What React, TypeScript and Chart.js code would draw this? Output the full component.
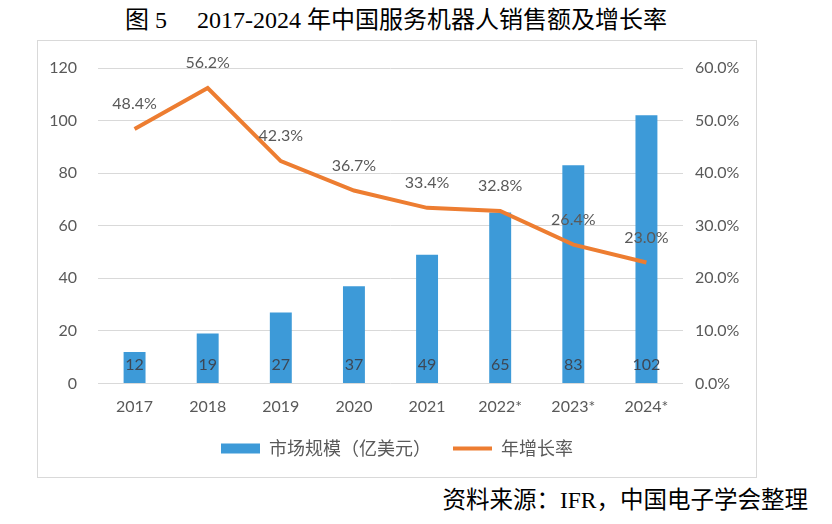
import React, { useRef, useEffect } from 'react';
import { Chart, registerables } from 'chart.js';

Chart.register(...registerables);

const years = ['2017', '2018', '2019', '2020', '2021', '2022*', '2023*', '2024*'];
const marketSize = [12, 19, 27, 37, 49, 65, 83, 102];
const growthRate = [48.4, 56.2, 42.3, 36.7, 33.4, 32.8, 26.4, 23.0];
const barLabel = '市场规模（亿美元）';
const lineLabel = '年增长率';
const titleText = '图 5\u2003 2017-2024 年中国服务机器人销售额及增长率';
const sourceText = '资料来源：IFR，中国电子学会整理';

const tickFont = { family: 'Lato, "Noto Sans CJK SC", sans-serif', size: 16 };

const valueLabels = {
    id: 'valueLabels',
    afterDatasetsDraw(chart: any) {
        const ctx = chart.ctx;
        ctx.save();
        ctx.font = '16px Lato, "Noto Sans CJK SC", sans-serif';
        ctx.textAlign = 'center';
        ctx.textBaseline = 'middle';

        const bars = chart.getDatasetMeta(0).data;
        ctx.fillStyle = '#3d4755';
        bars.forEach((bar: any, i: number) => {
            ctx.fillText(String(marketSize[i]), bar.x, bar.base - 18);
        });

        const points = chart.getDatasetMeta(1).data;
        ctx.fillStyle = '#595959';
        points.forEach((pt: any, i: number) => {
            ctx.fillText(growthRate[i].toFixed(1) + '%', pt.x, pt.y - 25);
        });
        ctx.restore();
    }
};

const App: React.FC = () => {
    const chartRef = useRef<HTMLCanvasElement>(null);

    useEffect(() => {
        const ctx = chartRef.current?.getContext('2d');
        if (!ctx) return;

        const chart = new Chart(ctx, {
            type: 'bar',
            data: {
                labels: years,
                datasets: [
                    {
                        type: 'bar',
                        label: barLabel,
                        data: marketSize,
                        backgroundColor: '#3d9ad8',
                        barPercentage: 0.3,
                        categoryPercentage: 1,
                        yAxisID: 'y',
                        order: 1,
                    } as any,
                    {
                        type: 'line',
                        label: lineLabel,
                        data: growthRate,
                        borderColor: '#ed7d31',
                        backgroundColor: '#ed7d31',
                        borderWidth: 4,
                        pointRadius: 0,
                        tension: 0,
                        fill: false,
                        yAxisID: 'y1',
                        order: 0,
                    } as any,
                ]
            },
            options: {
                responsive: true,
                maintainAspectRatio: false,
                animation: false,
                layout: { padding: { top: 27, bottom: 9.5, left: 0, right: 0 } },
                plugins: {
                    tooltip: { enabled: false },
                    legend: {
                        position: 'bottom',
                        labels: {
                            usePointStyle: true,
                            pointStyleWidth: 39,
                            boxHeight: 10,
                            padding: 22,
                            color: '#595959',
                            font: { family: '"Noto Sans CJK SC", sans-serif', size: 18 },
                            generateLabels: (c: any) => c.data.datasets.map((ds: any, i: number) => ({
                                text: ds.label,
                                fillStyle: ds.type === 'bar' ? ds.backgroundColor : ds.borderColor,
                                strokeStyle: ds.type === 'bar' ? ds.backgroundColor : ds.borderColor,
                                lineWidth: ds.type === 'bar' ? 0 : 4,
                                pointStyle: ds.type === 'bar' ? 'rect' : 'line',
                                fontColor: '#595959',
                                datasetIndex: i,
                                hidden: false,
                            })),
                        }
                    }
                },
                scales: {
                    x: {
                        grid: { display: false, drawTicks: false },
                        border: { display: false },
                        ticks: { color: '#595959', font: tickFont, padding: 14, maxRotation: 0 },
                        afterFit: (s: any) => { s.height = 34; },
                    },
                    y: {
                        position: 'left',
                        min: 0,
                        max: 120,
                        ticks: { stepSize: 20, color: '#595959', font: tickFont, padding: 21 },
                        grid: { color: '#d9d9d9', drawTicks: false },
                        border: { display: false },
                        afterFit: (s: any) => { s.width = 60; s.paddingTop = 0; s.paddingBottom = 0; },
                    },
                    y1: {
                        position: 'right',
                        min: 0,
                        max: 60,
                        ticks: {
                            stepSize: 10,
                            color: '#595959',
                            font: tickFont,
                            padding: 12,
                            callback: (v: any) => Number(v).toFixed(1) + '%',
                        },
                        grid: { display: false, drawTicks: false },
                        border: { display: false },
                        afterFit: (s: any) => { s.width = 73; s.paddingTop = 0; s.paddingBottom = 0; },
                    }
                }
            },
            plugins: [valueLabels]
        });

        return () => chart.destroy();
    }, []);

    return (
        <div style={{ position: 'fixed', left: 0, top: 0, width: 832, height: 524, background: '#fff' }}>
            <div style={{
                position: 'absolute', left: 0, width: 792, top: 5, textAlign: 'center', whiteSpace: 'nowrap',
                fontFamily: '"Liberation Serif", "Noto Sans CJK SC", serif', fontSize: 24, lineHeight: '30px', color: '#000'
            }}>
                {titleText}
            </div>
            <div style={{
                position: 'absolute', left: 37, top: 40, width: 720, height: 438,
                border: '1px solid #d9d9d9', boxSizing: 'border-box'
            }}>
                <div style={{ position: 'absolute', left: 0, top: 0, width: 718, height: 436 }}>
                    <canvas ref={chartRef} />
                </div>
            </div>
            <div style={{
                position: 'absolute', right: 24, top: 485, whiteSpace: 'nowrap',
                fontFamily: '"Liberation Serif", "Noto Sans CJK SC", serif', fontSize: 23.5, lineHeight: '30px', color: '#000'
            }}>
                {sourceText}
            </div>
        </div>
    );
};

export default App;
